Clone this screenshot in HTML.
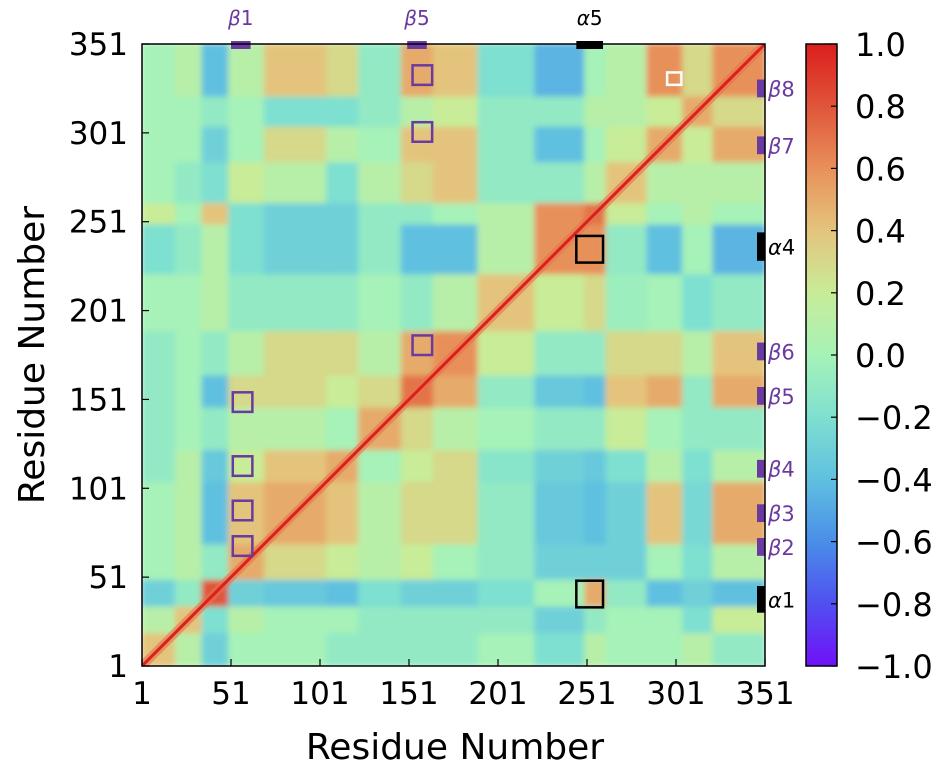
<!DOCTYPE html>
<html><head><meta charset="utf-8">
<style>
html,body{margin:0;padding:0;background:#fff;}
svg{display:block;font-family:"DejaVu Sans","Liberation Sans",sans-serif;}
</style></head>
<body>
<svg id="chart" width="937" height="776" viewBox="0 0 937 776" xmlns="http://www.w3.org/2000/svg">
<defs>
<clipPath id="plotclip"><rect x="142" y="44" width="623" height="622"/></clipPath>
<filter id="soft" x="0" y="0" width="1" height="1"><feGaussianBlur stdDeviation="3"/></filter>
<linearGradient id="cbgrad" x1="0" y1="1" x2="0" y2="0">
<stop offset="0" stop-color="#7010f8"/><stop offset="0.1" stop-color="#5050f0"/><stop offset="0.2" stop-color="#4a8ee8"/><stop offset="0.3" stop-color="#60c0e0"/><stop offset="0.4" stop-color="#7ee0d0"/><stop offset="0.5" stop-color="#a6f2b8"/><stop offset="0.6" stop-color="#c8ec98"/><stop offset="0.7" stop-color="#e4c47c"/><stop offset="0.8" stop-color="#e8905a"/><stop offset="0.9" stop-color="#e0553a"/><stop offset="1" stop-color="#dc1e1e"/>
</linearGradient>
</defs>
<g id="cells" clip-path="url(#plotclip)"><g id="cellsinner" filter="url(#soft)"></g></g>
<g id="overlay"></g>
<rect x="142" y="44" width="623" height="622" fill="none" stroke="#000" stroke-width="1.5"/>
<g id="axes"></g>
<text x="455" y="759" font-size="36" text-anchor="middle">Residue Number</text>
<text x="0" y="0" font-size="36" text-anchor="middle" transform="translate(44,355) rotate(-90)">Residue Number</text>
<rect x="806" y="44" width="31" height="622" fill="url(#cbgrad)" stroke="#000" stroke-width="1.5"/>
<g id="cbticks"></g>
</svg>
<script>
const segStarts = [1,20,35,50,70,105,123,147,165,190,222,250,262,285,305,322];
const segEnds   = [20,35,50,70,105,123,147,165,190,222,250,262,285,305,322,351];
// rows = y segment (A..P, bottom to top), cols = x segment (A..P)
const corrRows = [
 [0.4,0.1,-0.3,0,0,-0.1,-0.1,-0.1,-0.1,0,-0.2,0.1,0,0,0.1,-0.1],
 [0.1,0.4,-0.2,0.1,0,0,-0.1,-0.1,-0.1,-0.1,-0.3,-0.1,0,0,-0.2,0.2],
 [-0.3,-0.1,0.8,-0.3,-0.35,-0.4,-0.2,-0.3,-0.3,-0.2,0,0.5,-0.1,-0.4,-0.3,-0.4],
 [0,0.1,-0.1,0.5,0.3,0.2,0.1,0.2,0,-0.1,-0.3,-0.3,-0.3,0,-0.2,0.1],
 [0,0.1,-0.4,0.4,0.5,0.4,0.1,0.3,0.3,-0.1,-0.35,-0.4,-0.3,0.4,-0.25,0.5],
 [-0.1,0.1,-0.35,0.2,0.4,0.5,0,0.2,0.3,-0.15,-0.3,-0.35,-0.2,0.1,-0.2,0.1],
 [-0.1,0,-0.1,0.1,0.1,0,0.5,0.3,0.1,0,-0.1,-0.1,0.2,0,-0.1,-0.1],
 [-0.1,0,-0.4,0.3,0.3,0.2,0.3,0.7,0.5,-0.1,-0.35,-0.4,0.4,0.5,-0.1,0.5],
 [-0.1,0,-0.1,0.1,0.3,0.3,0.1,0.5,0.6,0.2,-0.1,-0.1,0.3,0.3,0.1,0.4],
 [0,0,0.1,-0.1,-0.1,-0.1,0,-0.1,0.1,0.4,0.2,0.3,-0.05,0,-0.2,-0.1],
 [-0.2,-0.1,0.1,-0.2,-0.3,-0.3,-0.1,-0.4,-0.4,0.1,0.6,0.6,-0.1,-0.4,0,-0.45],
 [0.2,0,0.4,-0.2,-0.3,-0.3,-0.1,-0.1,0,0.1,0.6,0.7,0.2,0,0.1,0],
 [0,-0.1,-0.2,0.2,0.1,-0.2,0.1,0.3,0.4,-0.1,-0.1,0.1,0.4,0.1,0.1,0.1],
 [0,0,-0.3,0,0.3,0.1,0,0.4,0.4,-0.1,-0.4,0,0.2,0.5,0.2,0.5],
 [0,0,-0.1,0,-0.2,-0.2,-0.1,0.1,0.2,-0.1,-0.1,0.1,0.1,0.2,0.5,0.3],
 [0,0.1,-0.4,0.1,0.4,0.3,-0.1,0.5,0.4,-0.2,-0.45,0,0.1,0.6,0.3,0.6]
];
const tickLabels = [1,51,101,151,201,251,301,351];
const cbTicks = [1.0,0.8,0.6,0.4,0.2,0.0,-0.2,-0.4,-0.6,-0.8,-1.0];
const topMarks = [{lab:"\u03b2",num:"1",s:51,e:62,c:"#6a3aa0"},{lab:"\u03b2",num:"5",s:150,e:161,c:"#6a3aa0"},{lab:"\u03b1",num:"5",s:245,e:260,c:"#000"}];
const rightMarks = [{lab:"\u03b2",num:"8",s:321,e:331,c:"#6a3aa0"},{lab:"\u03b2",num:"7",s:289,e:299,c:"#6a3aa0"},{lab:"\u03b1",num:"4",s:229,e:245,c:"#000"},{lab:"\u03b2",num:"6",s:173,e:183,c:"#6a3aa0"},{lab:"\u03b2",num:"5",s:148,e:158,c:"#6a3aa0"},{lab:"\u03b2",num:"4",s:107,e:117,c:"#6a3aa0"},{lab:"\u03b2",num:"3",s:82,e:92,c:"#6a3aa0"},{lab:"\u03b2",num:"2",s:63,e:73,c:"#6a3aa0"},{lab:"\u03b1",num:"1",s:31,e:46,c:"#000"}];
const boxes = [
 {x:153,y:328,w:11,h:11,c:"#6a3aa0"},{x:153,y:296,w:11,h:11,c:"#6a3aa0"},{x:153,y:176,w:11,h:11,c:"#6a3aa0"},
 {x:52,y:144,w:11,h:11,c:"#6a3aa0"},{x:52,y:108,w:11,h:11,c:"#6a3aa0"},{x:52,y:83,w:11,h:11,c:"#6a3aa0"},{x:52,y:63,w:11,h:11,c:"#6a3aa0"},
 {x:245,y:228,w:15,h:15,c:"#000"},{x:245,y:34,w:15,h:15,c:"#000"},{x:296,y:328,w:8,h:7,c:"#fff"}
];
const NS="http://www.w3.org/2000/svg";
const X0=142,X1=765,Y0=666,Y1=44;
function xs(r){return X0+(r-1)*(X1-X0)/350;}
function ys(r){return Y0-(r-1)*(Y0-Y1)/350;}
function cbY(v){return 666-(v+1)/2*622;}
const cmapStops=[[-1,[112,16,248]],[-0.8,[80,80,240]],[-0.6,[74,142,232]],[-0.4,[96,192,224]],[-0.2,[126,224,208]],[0,[166,242,184]],[0.2,[200,236,152]],[0.4,[228,196,124]],[0.6,[232,144,90]],[0.8,[224,85,58]],[1,[220,30,30]]];
function cmap(v){v=Math.max(-1,Math.min(1,v));for(let i=0;i<cmapStops.length-1;i++){const a=cmapStops[i],b=cmapStops[i+1];if(v<=b[0]){const t=(v-a[0])/(b[0]-a[0]);const c=a[1].map((q,k)=>Math.round(q+(b[1][k]-q)*t));return `rgb(${c[0]},${c[1]},${c[2]})`;}}return "rgb(220,30,30)";}
function el(tag,attrs,parent){const e=document.createElementNS(NS,tag);for(const k in attrs)e.setAttribute(k,attrs[k]);parent.appendChild(e);return e;}
const cells=document.getElementById('cellsinner');
for(let i=0;i<segStarts.length;i++){for(let j=0;j<segStarts.length;j++){
 const v=corrRows[i][j];
 const r=el('rect',{x:xs(segStarts[j])-1,y:ys(segEnds[i])-1,width:xs(segEnds[j])-xs(segStarts[j])+2,height:ys(segStarts[i])-ys(segEnds[i])+2,fill:cmap(v)},cells);
 
 
}}
const cg=document.getElementById('cells');
const diagGlow=el('line',{x1:xs(1),y1:ys(1),x2:xs(351),y2:ys(351),stroke:cmap(0.7),'stroke-width':9,'stroke-opacity':0.6},cg);


const diag=el('line',{x1:xs(1),y1:ys(1),x2:xs(351),y2:ys(351),stroke:cmap(1),'stroke-width':3},cg);


const ov=document.getElementById('overlay');
boxes.forEach(b=>{const r=el('rect',{x:xs(b.x),y:ys(b.y+b.h),width:xs(b.x+b.w)-xs(b.x),height:ys(b.y)-ys(b.y+b.h),fill:'none',stroke:b.c,'stroke-width':2.5},ov);
 
 });
topMarks.forEach(m=>{const r=el('rect',{x:xs(m.s),y:41,width:xs(m.e)-xs(m.s),height:8,fill:m.c},ov);
 
 
 const t=el('text',{x:(xs(m.s)+xs(m.e))/2,y:25,'font-size':20,'text-anchor':'middle',fill:m.c},ov);
 
 
 t.innerHTML=`<tspan font-style="italic">${m.lab}</tspan>${m.num}`;});
rightMarks.forEach(m=>{const r=el('rect',{x:757,y:ys(m.e),width:8,height:ys(m.s)-ys(m.e),fill:m.c},ov);
 
 
 const t=el('text',{x:768,y:(ys(m.s)+ys(m.e))/2+8,'font-size':21,fill:m.c},ov);
 
 
 t.innerHTML=`<tspan font-style="italic">${m.lab}</tspan>${m.num}`;});
const ax=document.getElementById('axes');
tickLabels.forEach(v=>{
 const tx=el('line',{x1:xs(v),y1:666,x2:xs(v),y2:659,stroke:'#000','stroke-width':1.2},ax);
 
 
 const ty=el('line',{x1:142,y1:ys(v),x2:149,y2:ys(v),stroke:'#000','stroke-width':1.2},ax);
 
 
 const lx=el('text',{x:xs(v),y:704,'font-size':31,'text-anchor':'middle'},ax);
 
 
 lx.textContent=v;
 const ly=el('text',{x:128,y:ys(v)+11,'font-size':31,'text-anchor':'end'},ax);
 
 
 ly.textContent=v;
});
const cb=document.getElementById('cbticks');
cbTicks.forEach(v=>{
 const t=el('line',{x1:831,y1:cbY(v),x2:837,y2:cbY(v),stroke:'#000','stroke-width':1.2},cb);
 
 
 const l=el('text',{x:855,y:cbY(v)+12,'font-size':32},cb);
 
 
 l.textContent=(v<0?'\u2212':'')+Math.abs(v).toFixed(1);
});
</script>
</body></html>
